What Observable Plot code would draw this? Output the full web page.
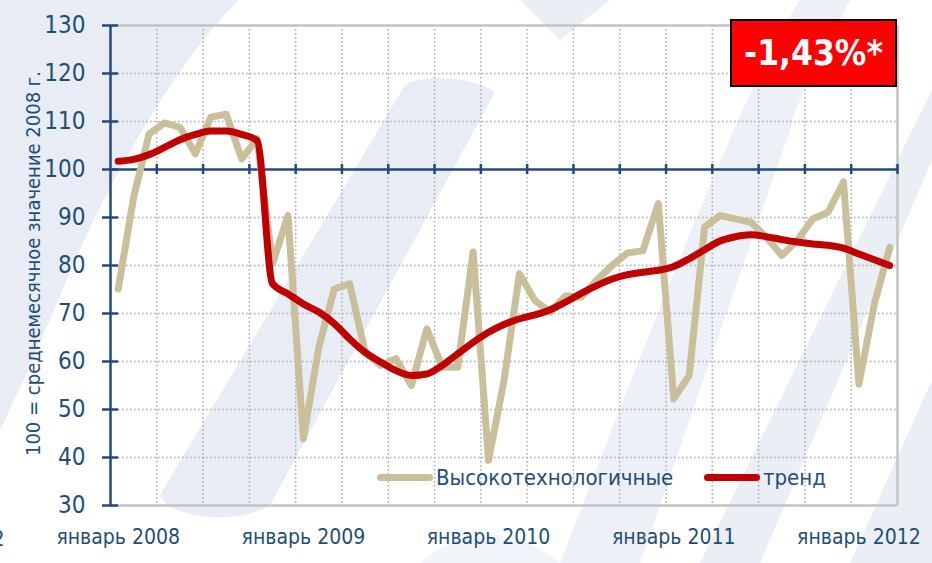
<!DOCTYPE html>
<html><head><meta charset="utf-8">
<script src="https://cdn.jsdelivr.net/npm/d3@7"></script>
<script src="https://cdn.jsdelivr.net/npm/@observablehq/plot@0.6"></script>
<style>
body{margin:0;background:#fff;}
#wrap{position:relative;width:932px;height:563px;overflow:hidden;font-family:"Liberation Sans Narrow","Arial Narrow","DejaVu Sans Condensed",sans-serif;color:#1f4e79;}
#bg,#chart{position:absolute;left:0;top:0;}
#badge{position:absolute;left:730px;top:19px;width:163px;height:64px;background:#ff0000;border:2px solid #000;color:#fff;font-weight:bold;font-size:35px;display:flex;align-items:center;justify-content:center;}
.leg{position:absolute;top:464px;height:26px;display:flex;align-items:center;font-size:22px;color:#1f4e79;}
.sw{width:56px;height:7px;border-radius:4px;margin-right:3px;}
#cut{position:absolute;left:-8px;top:526px;font-size:22px;}
</style></head>
<body>
<div id="wrap">
<svg id="bg" width="932" height="563">
  <g fill="#e8ecf4">
    <path d="M0,0 L238,0 C180,60 120,160 75,260 C50,320 20,390 0,430 Z"/>
    <path d="M160,495 C170,520 240,525 270,505 L495,92 C470,75 420,75 405,85 Z"/>
    <path d="M560,563 L640,563 L790,130 C800,90 830,40 850,0 L800,0 C760,60 700,200 560,563 Z" opacity="0.8"/>
    <path d="M520,0 L560,40 L610,0 Z" opacity="0.9"/>
    <path d="M700,563 L760,563 L932,160 L932,90 Z" opacity="0.9"/>
    <path d="M850,563 L932,563 L932,380 Z" opacity="0.9"/>
    <path d="M420,563 L560,563 C520,530 470,520 420,563 Z" opacity="0.6"/>
  </g>
</svg>
<div id="chart"></div>
<div id="badge">-1,43%*</div>
<div class="leg" style="left:377px"><div class="sw" style="background:#c9c09b"></div>Высокотехнологичные</div>
<div class="leg" style="left:704px"><div class="sw" style="background:#c00000"></div>тренд</div>
<div id="cut">2</div>
</div>
<script>
// Monthly index values, January 2008 – March 2012 (100 = average month of 2008)
const hightech = [75.1, 94.2, 107.4, 109.7, 108.8, 103.3, 110.9, 111.5, 102.2, 106.4, 80.4, 90.4,
  43.9, 63.0, 75.1, 76.2, 62.0, 59.2, 60.6, 55.0, 66.8, 58.8, 58.8, 82.8,
  39.4, 56.0, 78.3, 72.7, 70.3, 73.7, 73.4, 76.9, 80.0, 82.6, 83.1, 92.9,
  52.2, 57.1, 88.0, 90.4, 89.7, 89.0, 85.9, 82.1, 85.2, 89.7, 91.1, 97.4,
  55.3, 72.0, 83.8];
const trend = [101.7, 102.1, 103.1, 104.6, 106.2, 107.3, 108.0, 108.0, 107.3, 106.0, 76.2, 74.1,
  72.0, 70.3, 67.9, 64.7, 61.9, 59.9, 58.1, 57.1, 57.4, 59.2, 61.6, 64.0,
  66.1, 67.7, 68.9, 69.7, 70.8, 72.4, 74.2, 75.8, 77.2, 78.1, 78.6, 79.0,
  79.8, 81.4, 83.3, 85.1, 86.0, 86.4, 86.0, 85.4, 84.9, 84.5, 84.2, 83.6,
  82.4, 81.2, 80.0];
const xLabelIdx = [0, 12, 24, 36, 48];
const xLabels = ["январь 2008", "январь 2009", "январь 2010", "январь 2011", "январь 2012"];
const yTicks = [30, 40, 50, 60, 70, 80, 90, 100, 110, 120, 130];
const yTitle = "100 = среднемесячное значение 2008 г.";

const data = hightech.map((v, i) => ({i, hightech: v, trend: trend[i]}));
const bounds = d3.range(-0.5, hightech.length, 3);
const blue = "#24497f";
const textBlue = "#1f4e79";
const grid = {stroke: "#a9a9a9", strokeWidth: 1.5, strokeDasharray: "1.5,2.5"};

const chart = Plot.plot({
  width: 932, height: 563,
  marginLeft: 110, marginRight: 35, marginTop: 25, marginBottom: 58,
  style: {background: "transparent", fontFamily: '"Liberation Sans Narrow","Arial Narrow","DejaVu Sans Condensed",sans-serif', color: textBlue},
  x: {domain: [-0.5, hightech.length - 0.5]},
  y: {domain: [30, 130]},
  marks: [
    Plot.ruleY(yTicks.filter(v => v > 30 && v < 130 && v !== 100), grid),
    Plot.ruleX(bounds.slice(1, -1), grid),
    Plot.ruleY([30, 130], {stroke: "#c3c3c3", strokeWidth: 2.5}),
    Plot.ruleX([bounds[bounds.length - 1]], {stroke: "#c3c3c3", strokeWidth: 2.5}),
    Plot.ruleY([100], {stroke: blue, strokeWidth: 2.5}),
    Plot.ruleX(bounds.slice(1), {y1: 100, y2: 100, insetTop: -5, insetBottom: -5, stroke: blue, strokeWidth: 2.5}),
    Plot.ruleX([-0.5], {stroke: blue, strokeWidth: 2.5}),
    Plot.ruleY(yTicks, {x1: -0.5, x2: -0.5, insetLeft: -8, insetRight: -8, stroke: blue, strokeWidth: 2.5}),
    Plot.axisY(yTicks, {tickSize: 0, tickPadding: 25, fontSize: 24, color: textBlue, label: null}),
    Plot.axisX(xLabelIdx, {tickSize: 0, tickPadding: 24, fontSize: 21, color: textBlue, label: null,
      tickFormat: d => xLabels[xLabelIdx.indexOf(d)]}),
    Plot.text([yTitle], {frameAnchor: "left", textAnchor: "middle", dx: -77, dy: -2, rotate: -90, fontSize: 20, fill: textBlue, text: d => d}),
    Plot.line(data, {x: "i", y: "hightech", stroke: "#c9c09b", strokeWidth: 7, strokeLinejoin: "round", strokeLinecap: "round"}),
    Plot.line(data, {x: "i", y: "trend", stroke: "#c00000", strokeWidth: 7, curve: "monotone-x", strokeLinejoin: "round", strokeLinecap: "round"})
  ]
});
document.getElementById("chart").appendChild(chart);
</script>
</body></html>
